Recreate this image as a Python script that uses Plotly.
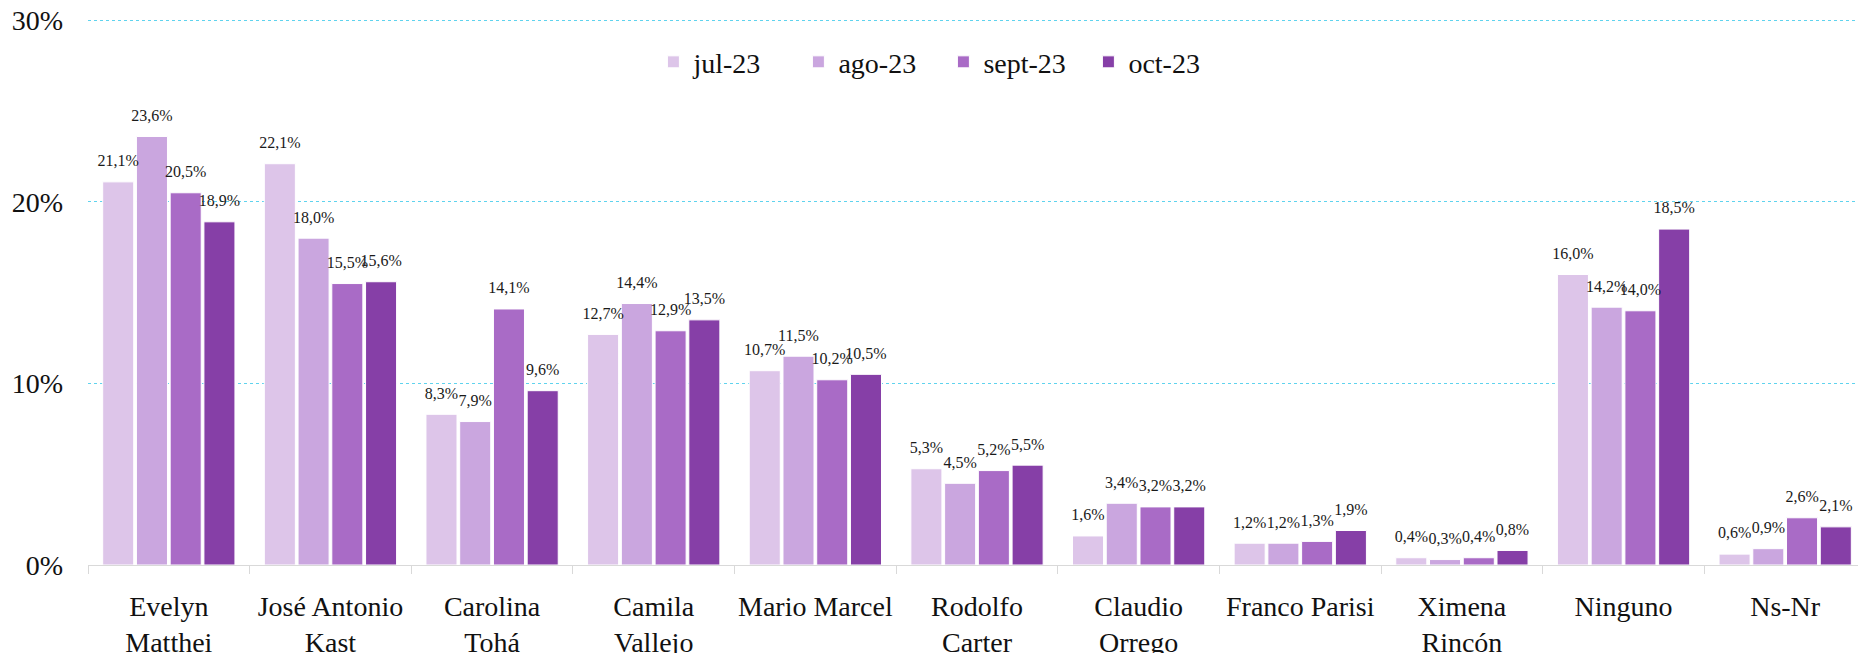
import plotly.graph_objects as go

categories = ["Evelyn<br>Matthei", "José Antonio<br>Kast", "Carolina<br>Tohá", "Camila<br>Vallejo",
              "Mario Marcel", "Rodolfo<br>Carter", "Claudio<br>Orrego", "Franco Parisi",
              "Ximena<br>Rincón", "Ninguno", "Ns-Nr"]
series_names = ["jul-23", "ago-23", "sept-23", "oct-23"]
jul_23 = [21.1, 22.1, 8.3, 12.7, 10.7, 5.3, 1.6, 1.2, 0.4, 16.0, 0.6]
ago_23 = [23.6, 18.0, 7.9, 14.4, 11.5, 4.5, 3.4, 1.2, 0.3, 14.2, 0.9]
sept_23 = [20.5, 15.5, 14.1, 12.9, 10.2, 5.2, 3.2, 1.3, 0.4, 14.0, 2.6]
oct_23 = [18.9, 15.6, 9.6, 13.5, 10.5, 5.5, 3.2, 1.9, 0.8, 18.5, 2.1]
y_tick_values = [0, 10, 20, 30]
y_tick_labels = ["0%", "10%", "20%", "30%"]

series_values = [jul_23, ago_23, sept_23, oct_23]
colors = ["#DDC5E9", "#CAA6DF", "#A96BC6", "#863FA7"]
FONT = "Liberation Serif, serif"

fig = go.Figure()
for i, (name, vals, col) in enumerate(zip(series_names, series_values, colors)):
    fig.add_trace(go.Bar(
        x=categories, y=vals, name=name, offsetgroup=str(i),
        marker=dict(color=col, line=dict(color="white", width=1)),
        hoverinfo="skip",
    ))
for i, vals in enumerate(series_values):
    labels = [f"{v:.1f}%".replace(".", ",") for v in vals]
    fig.add_trace(go.Scatter(
        x=categories, y=vals, mode="markers+text", text=labels,
        textposition="top center", offsetgroup=str(i),
        marker=dict(size=17, opacity=0), showlegend=False,
        textfont=dict(family=FONT, size=16, color="#1a1a1a"),
        cliponaxis=False, hoverinfo="skip",
    ))

# the page body adds an 8px offset at top/left, so the figure is 8px smaller
fig.update_layout(
    width=1858, height=645,
    margin=dict(l=80, r=0, t=11, b=88, autoexpand=False),
    paper_bgcolor="white", plot_bgcolor="white",
    barmode="group", scattermode="group",
    bargap=0.165, bargroupgap=0.08, scattergap=0.165,
    font=dict(family=FONT, color="#111111"),
    legend=dict(orientation="h", x=0.318, xanchor="left", y=0.921, yanchor="middle",
                font=dict(family=FONT, size=28, color="#111111"),
                bgcolor="rgba(0,0,0,0)", itemwidth=30,
                entrywidth=100, entrywidthmode="pixels"),
    xaxis=dict(
        showline=True, linecolor="#d9d9d9", linewidth=1,
        ticks="outside", tickson="boundaries", ticklen=8, tickcolor="#d9d9d9",
        tickfont=dict(family=FONT, size=28, color="#111111"),
        tickangle=0, ticklabelstandoff=16, automargin=False,
        ticklabeloverflow="allow",
        showgrid=False, fixedrange=True,
    ),
    yaxis=dict(
        range=[0, 30.07], tickvals=y_tick_values, ticktext=y_tick_labels,
        showgrid=True, gridcolor="#5fd3ee", griddash="dot", gridwidth=1,
        zeroline=False, showline=False, ticks="",
        ticklabelstandoff=24, automargin=False,
        ticklabeloverflow="allow",
        tickfont=dict(family=FONT, size=28, color="#111111"),
        fixedrange=True,
    ),
)

fig.write_html("out.html")
